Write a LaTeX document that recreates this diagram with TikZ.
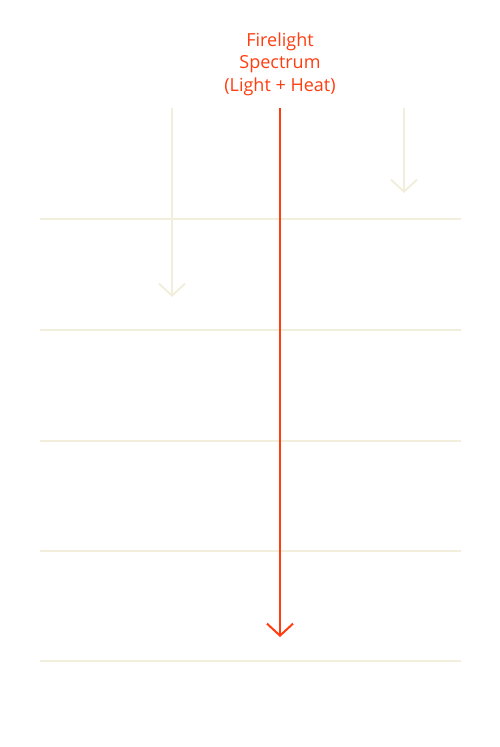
\documentclass[tikz,border=0pt]{standalone}
\usepackage{fontspec}
\setmainfont{Open Sans}
\usetikzlibrary{positioning,arrows.meta}
\definecolor{flame}{HTML}{FF3D10}
\definecolor{cream}{HTML}{F2EEDC}
\begin{document}
\begin{tikzpicture}[x=1pt,y=-1pt,
  band/.style={cream,line width=1.3pt},
  ray/.style={line width=2pt,-{Straight Barb[length=12pt,width=26pt]}}]
\useasboundingbox (0,0) rectangle (500,747);
\foreach \y in {219,330,441,551,661}{\draw[band] (40,\y)--(461,\y);}
\node[flame,align=center,inner sep=0pt,font=\fontsize{18}{22.5}\selectfont] (title) at (280,64) {Firelight\\Spectrum\\(Light + Heat)};
\coordinate (leftA) at (172,108); \coordinate (leftB) at (172,297);
\coordinate (rightA) at (404,108); \coordinate (rightB) at (404,193);
\coordinate (fireA) at (280,108); \coordinate (fireB) at (280,637);
\draw[ray,cream] (leftA)--(leftB);
\draw[ray,cream] (rightA)--(rightB);
\draw[ray,flame] (fireA)--(fireB);
\end{tikzpicture}
\end{document}
